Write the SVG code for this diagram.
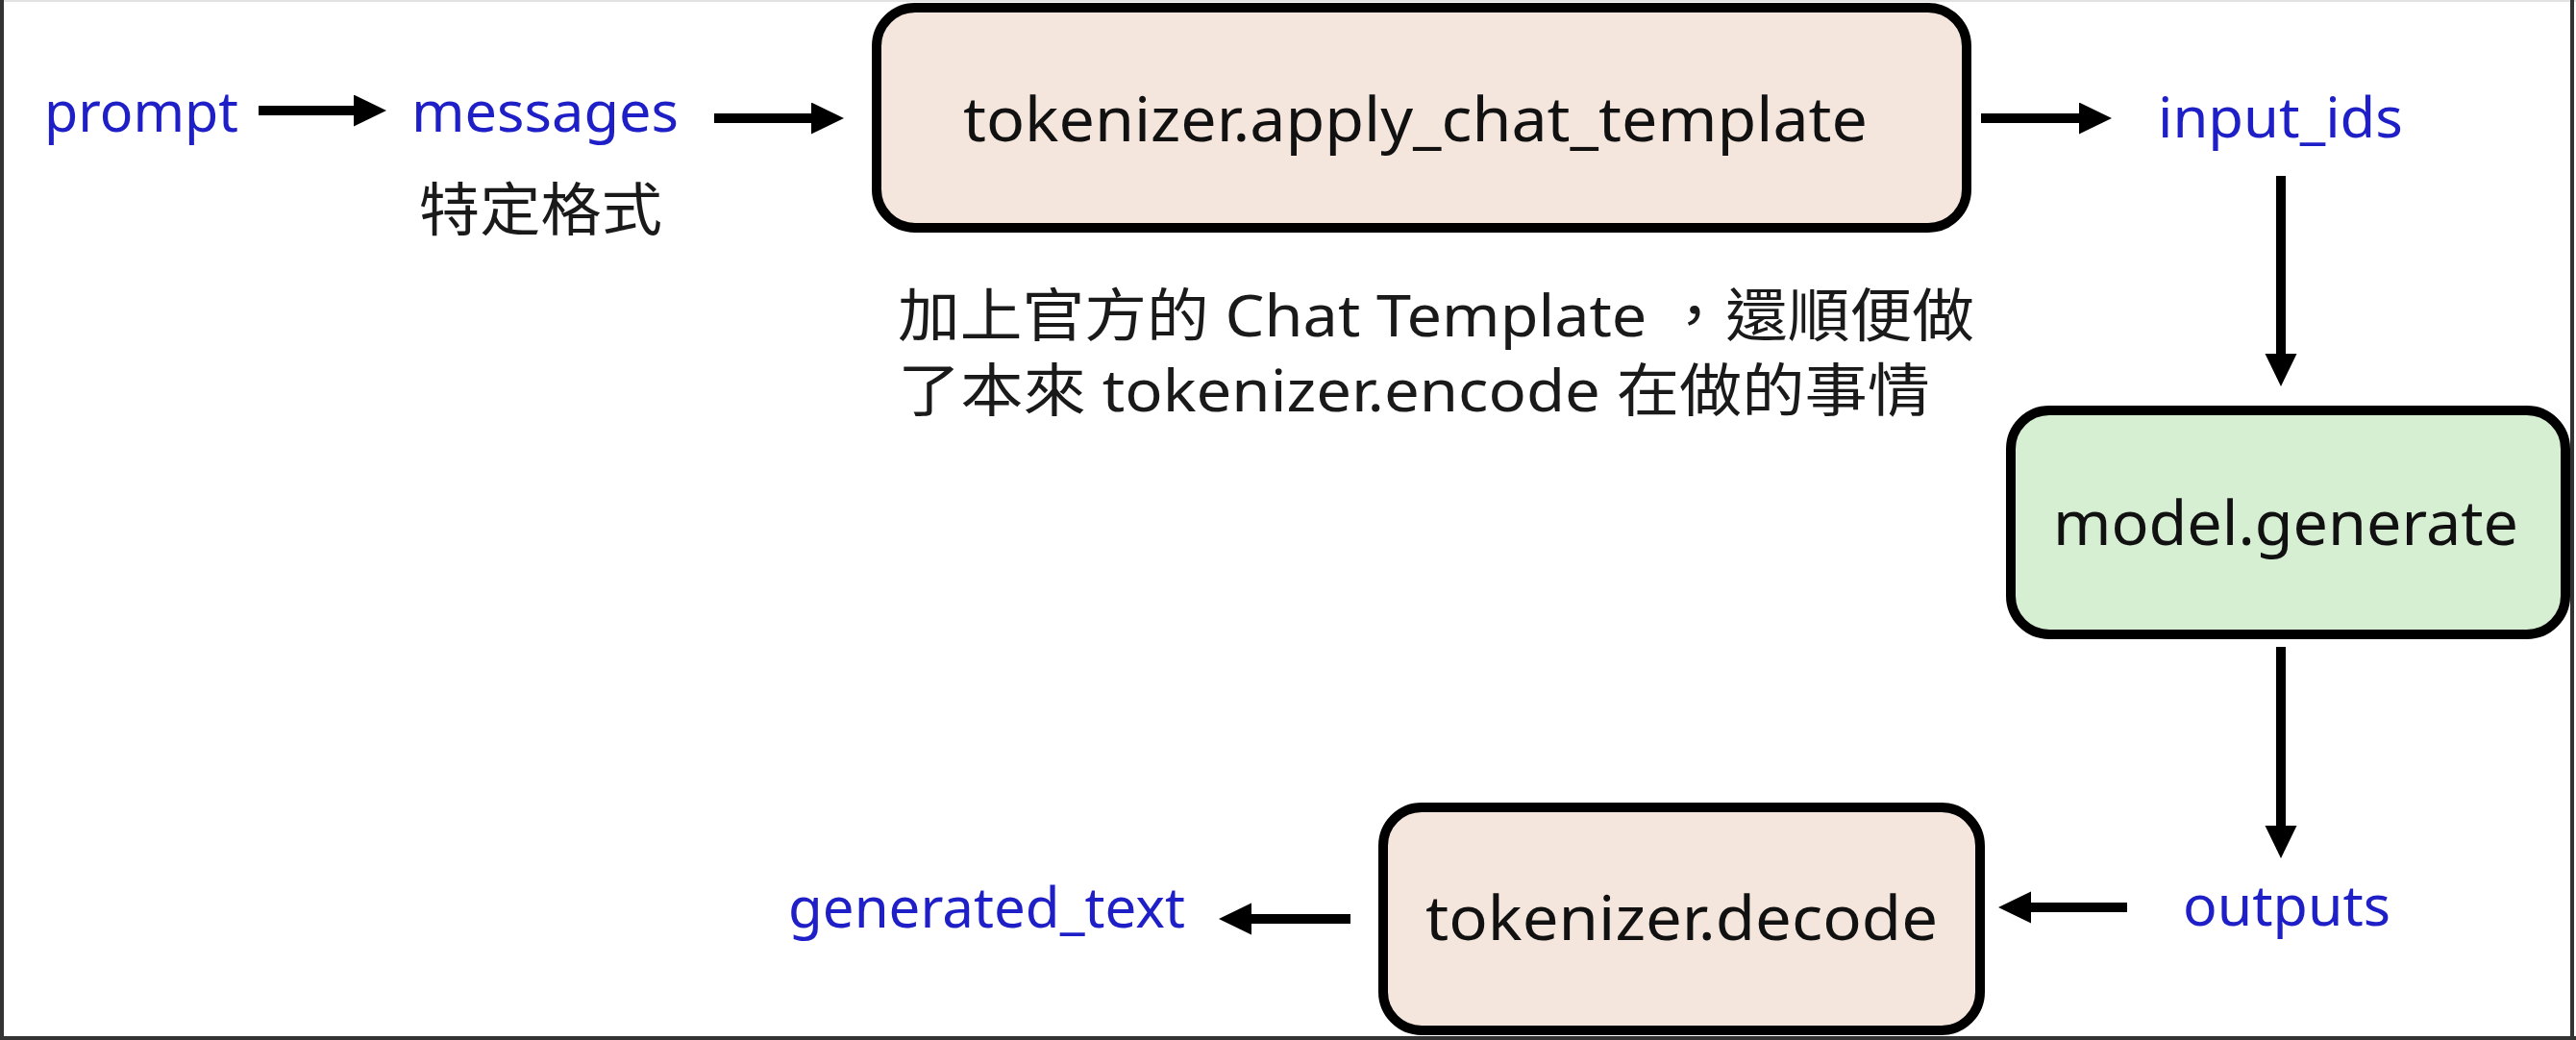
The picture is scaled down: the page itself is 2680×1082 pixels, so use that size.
<svg xmlns="http://www.w3.org/2000/svg" width="2680" height="1082" viewBox="0 0 2680 1082">
  <style>
    .lbl { font-family: "Noto Sans", "Liberation Sans", sans-serif; font-size: 58px; fill: #1f1fc8; }
    .box-text { font-family: "Noto Sans", "Liberation Sans", sans-serif; font-size: 64px; fill: #111111; }
    .note { font-family: "Noto Sans", "Noto Sans CJK TC", sans-serif; font-size: 60px; fill: #1a1a1a; }
    .node-peach { fill: #f4e6dc; stroke: #000000; stroke-width: 10; }
    .node-green { fill: #d6efd3; stroke: #000000; stroke-width: 10; }
    .conn { stroke: #000000; stroke-width: 10; fill: none; marker-end: url(#arrow); }
    .frame { stroke: #333333; stroke-width: 4; }
  </style>
  <defs>
    <marker id="arrow" markerUnits="userSpaceOnUse" markerWidth="36" markerHeight="34" refX="4" refY="16.5" orient="auto">
      <path d="M0,0 L34,16.5 L0,33 z" fill="#000000"/>
    </marker>
  </defs>

  <rect x="0" y="0" width="2680" height="1082" fill="#ffffff"/>
  <g id="frame">
    <line x1="0" y1="1" x2="2680" y2="1" stroke="#e2e2e2" stroke-width="2"/>
    <line class="frame" x1="2" y1="0" x2="2" y2="1082"/>
    <line class="frame" x1="2676" y1="0" x2="2676" y2="1082"/>
    <line class="frame" x1="0" y1="1080" x2="2680" y2="1080"/>
  </g>

  <g id="connectors">
    <line class="conn" x1="269" y1="115" x2="372" y2="115"/>
    <line class="conn" x1="743" y1="123" x2="848" y2="123"/>
    <line class="conn" x1="2061" y1="123" x2="2167" y2="123"/>
    <line class="conn" x1="2373" y1="183" x2="2373" y2="372"/>
    <line class="conn" x1="2373" y1="673" x2="2373" y2="863"/>
    <line class="conn" x1="2213" y1="944" x2="2109" y2="944"/>
    <line class="conn" x1="1405" y1="956" x2="1298" y2="956"/>
  </g>

  <g id="prompt">
    <text class="lbl" x="46" y="137" textLength="202" lengthAdjust="spacingAndGlyphs">prompt</text>
  </g>
  <g id="messages">
    <text class="lbl" x="428" y="137" textLength="278" lengthAdjust="spacingAndGlyphs">messages</text>
    <text class="note" x="436" y="240" font-size="62" textLength="253" lengthAdjust="spacingAndGlyphs" style="font-family:'Noto Sans CJK TC', sans-serif">特定格式</text>
  </g>
  <g id="apply_chat_template">
    <rect class="node-peach" x="912" y="8" width="1134" height="229" rx="40" ry="40"/>
    <text class="box-text" x="1002" y="147" textLength="941" lengthAdjust="spacingAndGlyphs">tokenizer.apply_chat_template</text>
  </g>
  <g id="note">
    <text class="note" x="934" y="350" textLength="1120" lengthAdjust="spacingAndGlyphs">加上官方的 Chat Template ，還順便做</text>
    <text class="note" x="934" y="428" textLength="1074" lengthAdjust="spacingAndGlyphs">了本來 tokenizer.encode 在做的事情</text>
  </g>
  <g id="input_ids">
    <text class="lbl" x="2245" y="143" textLength="255" lengthAdjust="spacingAndGlyphs">input_ids</text>
  </g>
  <g id="model_generate">
    <rect class="node-green" x="2092" y="427" width="577" height="233" rx="40" ry="40"/>
    <text class="box-text" x="2136" y="567" textLength="484" lengthAdjust="spacingAndGlyphs">model.generate</text>
  </g>
  <g id="outputs">
    <text class="lbl" x="2271" y="963" textLength="216" lengthAdjust="spacingAndGlyphs">outputs</text>
  </g>
  <g id="decode">
    <rect class="node-peach" x="1439" y="840" width="621" height="232" rx="40" ry="40"/>
    <text class="box-text" x="1483" y="978" textLength="533" lengthAdjust="spacingAndGlyphs">tokenizer.decode</text>
  </g>
  <g id="generated_text">
    <text class="lbl" x="820" y="965" textLength="413" lengthAdjust="spacingAndGlyphs">generated_text</text>
  </g>
</svg>
